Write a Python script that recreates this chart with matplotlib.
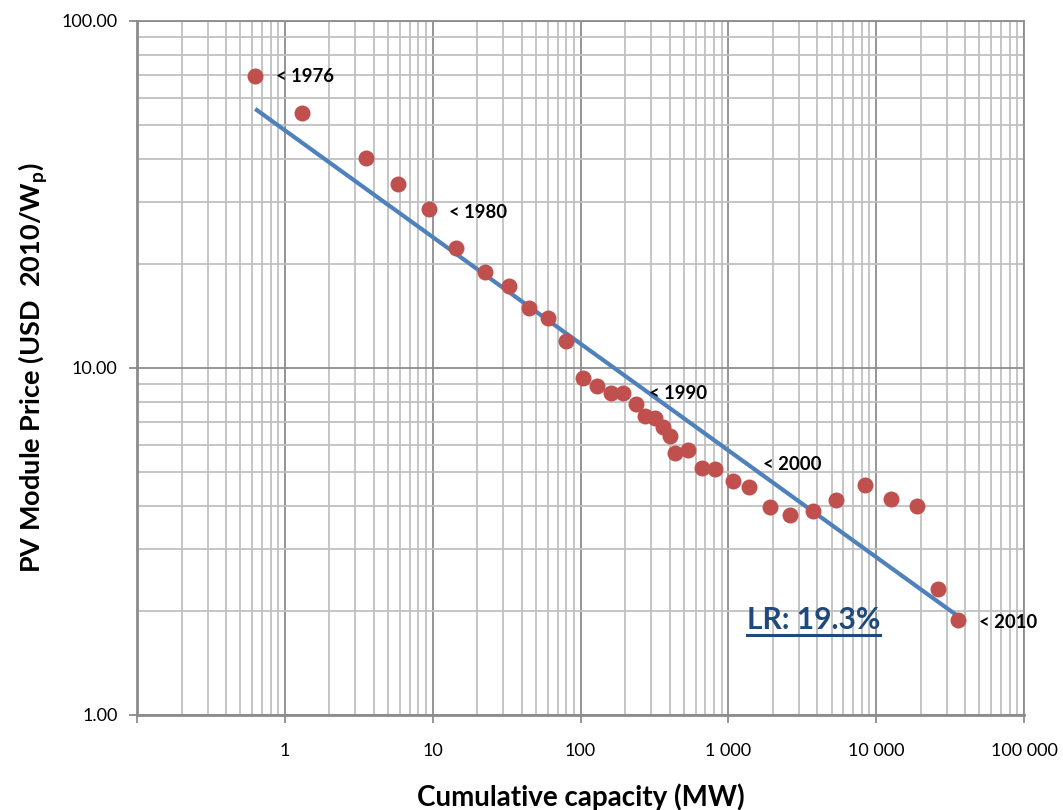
import numpy as np
import matplotlib
matplotlib.use("Agg")
import matplotlib.pyplot as plt
from matplotlib.lines import Line2D
from matplotlib.ticker import LogLocator, FuncFormatter, NullFormatter

plt.rcParams['font.family'] = ['Lato', 'DejaVu Sans']

# cumulative capacity [MW] and module price [USD 2010/Wp]
capacity = [0.632, 1.31, 3.55, 5.85, 9.47, 14.4, 22.6, 32.9, 44.9, 60.3, 79.8,
            104, 129, 161, 194, 237, 273, 319, 361, 403, 435, 532, 662, 811,
            1072, 1376, 1907, 2605, 3726, 5326, 8357, 12530, 18780, 26060, 35560]
price = [69.5, 54.4, 40.3, 33.8, 28.8, 22.2, 18.9, 17.2, 14.9, 13.9, 12.0,
         9.33, 8.85, 8.45, 8.45, 7.85, 7.25, 7.16, 6.74, 6.35, 5.68, 5.79, 5.14, 5.10,
         4.71, 4.53, 3.97, 3.76, 3.86, 4.16, 4.59, 4.19, 3.99, 2.31, 1.88]

# learning curve (power law) end points
trend_x = [0.63, 35560]
trend_y = [55.8, 1.93]

year_labels = ['< 1976', '< 1980', '< 1990', '< 2000', '< 2010']
label_x = [0.877, 12.9, 290, 1710, 49300]
label_y = [69, 28.0, 8.45, 5.28, 1.85]

lr_text = 'LR: 19.3%'

fig = plt.figure(figsize=(10.63, 8.10), dpi=100)
ax = fig.add_axes([0.1289, 0.1173, 0.8344, 0.8568])

ax.set_xscale('log')
ax.set_yscale('log')
ax.set_xlim(0.1, 100000)
ax.set_ylim(1, 100)

ax.plot(trend_x, trend_y, color='#4F81BD', lw=3, zorder=3, solid_capstyle='butt')
ax.plot(capacity, price, 'o', color='#C0504D', markersize=11.5, markeredgewidth=0, zorder=4)

for txt, lx, ly in zip(year_labels, label_x, label_y):
    ax.text(lx, ly, txt, fontsize=13.3, fontweight='bold', ha='left', va='center', zorder=5)

lr = ax.text(1334, 1.88, lr_text, fontsize=21.6, fontweight='bold', color='#1F497D',
             ha='left', va='center', zorder=5)

# ticks and grid
ax.xaxis.set_major_locator(LogLocator(base=10, numticks=10))
ax.xaxis.set_minor_locator(LogLocator(base=10, subs=np.arange(2, 10), numticks=20))
ax.yaxis.set_major_locator(LogLocator(base=10, numticks=10))
ax.yaxis.set_minor_locator(LogLocator(base=10, subs=np.arange(2, 10), numticks=20))


def xfmt(v, pos):
    if v < 1:
        return ''
    return '{:,}'.format(int(round(v))).replace(',', ' ')


ax.xaxis.set_major_formatter(FuncFormatter(xfmt))
ax.yaxis.set_major_formatter(FuncFormatter(lambda v, pos: '%.2f' % v))
ax.xaxis.set_minor_formatter(NullFormatter())
ax.yaxis.set_minor_formatter(NullFormatter())

ax.grid(which='minor', color='#C0C0C0', lw=1.3)
ax.grid(which='major', color='#8C8C8C', lw=1.3)
ax.set_axisbelow(True)

ax.tick_params(which='major', length=6, width=1.3, color='#8C8C8C', labelsize=13, pad=8)
ax.tick_params(which='minor', length=0)
ax.tick_params(axis='x', pad=14)
for sp in ax.spines.values():
    sp.set_color('#8C8C8C')
    sp.set_linewidth(1.3)
ax.spines['left'].set_linewidth(2)
ax.spines['bottom'].set_linewidth(2)

ax.set_xlabel('Cumulative capacity (MW)', fontsize=20, fontweight='bold', labelpad=18)
ax.set_ylabel('PV Module Price (USD  2010/W$_\\mathregular{p}$)', fontsize=19.5,
              fontweight='bold', labelpad=8)

# underline the learning rate text
fig.canvas.draw()
bb = lr.get_window_extent()
W, H = fig.get_size_inches() * fig.dpi
uy = (bb.y0 - 1) / H
fig.add_artist(Line2D([bb.x0 / W, bb.x1 / W], [uy, uy], color='#1F497D', lw=2.2))

fig.savefig('out.png', dpi=100)
